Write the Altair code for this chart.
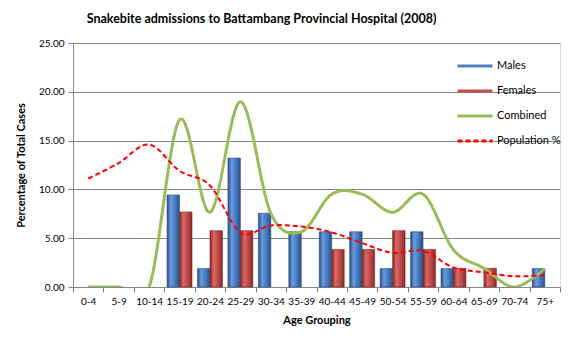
import altair as alt
import pandas as pd

ages = ["0-4", "5-9", "10-14", "15-19", "20-24", "25-29", "30-34", "35-39",
        "40-44", "45-49", "50-54", "55-59", "60-64", "65-69", "70-74", "75+"]
males = [0, 0, 0, 9.43, 1.89, 13.21, 7.55, 5.66, 5.66, 5.66, 1.89, 5.66, 1.89, 0, 0, 1.89]
females = [0, 0, 0, 7.69, 5.77, 5.77, 0, 0, 3.85, 3.85, 5.77, 3.85, 1.92, 1.92, 0, 0]
combined = [0, 0, 0, 17.12, 7.66, 18.98, 7.55, 5.66, 9.51, 9.51, 7.66, 9.51, 3.81, 1.92, 0, 1.89]
population = [11.1, 12.7, 14.6, 11.9, 10.4, 5.6, 6.3, 6.2, 5.6, 4.5, 3.5, 3.7, 2.0, 1.5, 1.1, 1.2]

series = ["Males", "Females", "Combined", "Population %"]
sexes = ["Males", "Females"]

bars = pd.DataFrame(
    [{"age": a, "sex": "Males", "value": v} for a, v in zip(ages, males)]
    + [{"age": a, "sex": "Females", "value": v} for a, v in zip(ages, females)]
)
lines = pd.DataFrame(
    [{"age": a, "series": "Combined", "value": v} for a, v in zip(ages, combined)]
    + [{"age": a, "series": "Population %", "value": v} for a, v in zip(ages, population)]
)

FONT = "Lato"
GRID = "#868686"

x_enc = alt.X("age:N", sort=ages, title="Age Grouping",
              scale=alt.Scale(paddingInner=0, paddingOuter=0),
              axis=alt.Axis(labelAngle=0, tickBand="extent", grid=False,
                            domainColor=GRID, tickColor=GRID, tickSize=5,
                            labelFontSize=10, labelPadding=4, titlePadding=8,
                            titleFontSize=11, titleFontWeight="bold"))
y_enc = alt.Y("value:Q", title="Percentage of Total Cases",
              scale=alt.Scale(domain=[0, 25], nice=False),
              axis=alt.Axis(values=[0, 5, 10, 15, 20, 25], format=".2f",
                            grid=True, gridColor=GRID, domainColor=GRID,
                            tickColor=GRID, tickSize=5, labelFontSize=10,
                            labelPadding=4, titlePadding=12,
                            titleFontSize=11, titleFontWeight="bold"))

xoff = alt.XOffset("sex:N", sort=sexes,
                   scale=alt.Scale(domain=sexes, paddingInner=0, paddingOuter=0.22))

blue_grad = alt.LinearGradient(
    gradient="linear", x1=0, x2=1, y1=0, y2=0,
    stops=[alt.GradientStop(color="#244C86", offset=0),
           alt.GradientStop(color="#6A9BDE", offset=0.3),
           alt.GradientStop(color="#4A7EC4", offset=0.6),
           alt.GradientStop(color="#27518A", offset=1)])
red_grad = alt.LinearGradient(
    gradient="linear", x1=0, x2=1, y1=0, y2=0,
    stops=[alt.GradientStop(color="#822422", offset=0),
           alt.GradientStop(color="#DB6865", offset=0.3),
           alt.GradientStop(color="#C24E4B", offset=0.6),
           alt.GradientStop(color="#8A2A28", offset=1)])

base_bars = alt.Chart(bars).transform_filter("datum.value > 0")

male_bars = base_bars.transform_filter("datum.sex === 'Males'").mark_bar(
    fill=blue_grad, stroke="#2F4F7F", strokeWidth=0.6
).encode(x=x_enc, y=y_enc, xOffset=xoff)

female_bars = base_bars.transform_filter("datum.sex === 'Females'").mark_bar(
    fill=red_grad, stroke="#7A2B29", strokeWidth=0.6
).encode(x=x_enc, y=y_enc, xOffset=xoff)

leg = alt.Legend(title=None, orient="none", legendX=383, legendY=4,
                 symbolType="stroke", symbolSize=1225, symbolStrokeWidth=3,
                 labelFontSize=11, labelFont=FONT, rowPadding=-11, labelOffset=3)

color_enc = alt.Color("series:N", legend=leg,
                      scale=alt.Scale(domain=series,
                                      range=["#4F81BD", "#C0504D", "#9BBB59", "#FF0000"]))
dash_enc = alt.StrokeDash("series:N", legend=leg,
                          scale=alt.Scale(domain=series,
                                          range=[[1, 0], [1, 0], [1, 0], [5, 3]]))

combined_line = alt.Chart(lines).transform_filter("datum.series === 'Combined'").mark_line(
    interpolate="cardinal", clip=True, strokeWidth=3
).encode(x=x_enc, y=y_enc, color=color_enc, strokeDash=dash_enc)

pop_line = alt.Chart(lines).transform_filter("datum.series === 'Population %'").mark_line(
    interpolate="cardinal", clip=True, strokeWidth=2
).encode(x=x_enc, y=y_enc, color=color_enc, strokeDash=dash_enc)

chart = alt.layer(male_bars, female_bars, combined_line, pop_line).properties(
    width=487, height=244,
    padding={"left": 73, "top": 43, "right": 15, "bottom": 64},
    autosize="none",
    title=alt.Title("Snakebite admissions to Battambang Provincial Hospital (2008)",
                    anchor="middle", dx=-55, offset=13, fontSize=12.5,
                    fontWeight="bold", font=FONT),
).configure_view(stroke=None).configure(font=FONT).configure_axis(
    labelFont=FONT, titleFont=FONT, labelColor="black", titleColor="black")

chart.save("out.html", embed_options={"renderer": "svg", "actions": False})
